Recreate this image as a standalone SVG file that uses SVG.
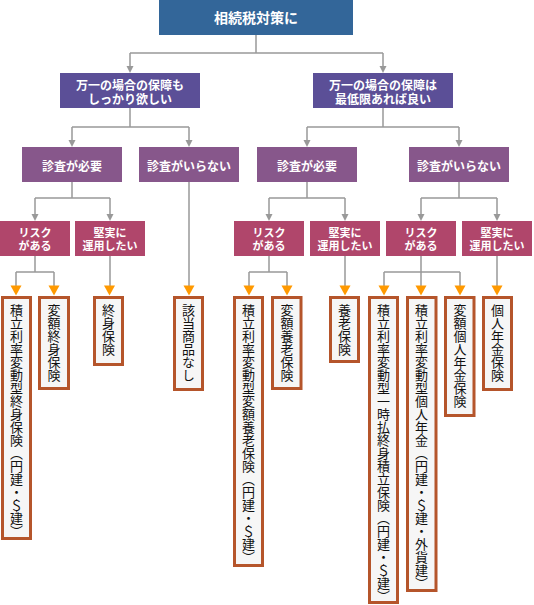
<svg xmlns="http://www.w3.org/2000/svg" width="534" height="605" viewBox="0 0 534 605">
<defs>
<style>
.hd{font-family:"Noto Sans CJK JP","Noto Sans",sans-serif;font-weight:bold;fill:#fff;text-anchor:middle;dominant-baseline:central}
.lf{font-family:"Noto Sans CJK JP","Noto Sans",sans-serif;font-size:13px;fill:#111;writing-mode:vertical-rl;text-anchor:start}
.leaf{fill:#f6f6f6;stroke:#b5552b;stroke-width:3}
.ln{stroke:#999;stroke-width:1.5;fill:none}
</style>
</defs>
<rect width="534" height="605" fill="#fff"/>
<g id="connectors">
<path class="ln" d="M256,35V53M130,53H383M130,53V66M383,53V66"/>
<path class="ln" d="M130,108V127M72,127H189M72,127V140M189,127V140"/>
<path class="ln" d="M383,108V127M307,127H459M307,127V140M459,127V140"/>
<path class="ln" d="M72,182V198M35,198H110M35,198V214M110,198V214"/>
<path class="ln" d="M307,182V198M269,198H345M269,198V214M345,198V214"/>
<path class="ln" d="M459,182V198M421,198H497M421,198V214M497,198V214"/>
<path class="ln" d="M189,182V286"/>
<path class="ln" d="M35,256V272M16,272H54M16,272V286M54,272V286M110,256V286"/>
<path class="ln" d="M269,256V272M249,272H287M249,272V286M287,272V286M345,256V286"/>
<path class="ln" d="M421,256V286M384,272H460M384,272V286M460,272V286M497,256V286"/>
<g fill="#999">
<path d="M126.5,66h7l-3.5,7z"/><path d="M379.5,66h7l-3.5,7z"/>
<path d="M68.5,140h7l-3.5,7z"/><path d="M185.5,140h7l-3.5,7z"/>
<path d="M303.5,140h7l-3.5,7z"/><path d="M455.5,140h7l-3.5,7z"/>
<path d="M31.5,214h7l-3.5,7z"/><path d="M106.5,214h7l-3.5,7z"/>
<path d="M265.5,214h7l-3.5,7z"/><path d="M341.5,214h7l-3.5,7z"/>
<path d="M417.5,214h7l-3.5,7z"/><path d="M493.5,214h7l-3.5,7z"/>
</g>
<g fill="#ff9900">
<path d="M10.5,285.5h11l-5.5,10z"/><path d="M48.5,285.5h11l-5.5,10z"/><path d="M104,285.5h11l-5.5,10z"/>
<path d="M183.5,285.5h11l-5.5,10z"/><path d="M243.5,285.5h11l-5.5,10z"/><path d="M281.5,285.5h11l-5.5,10z"/>
<path d="M339.5,285.5h11l-5.5,10z"/><path d="M378.5,285.5h11l-5.5,10z"/><path d="M415.5,285.5h11l-5.5,10z"/>
<path d="M454.5,285.5h11l-5.5,10z"/><path d="M491.5,285.5h11l-5.5,10z"/>
</g>
</g>
<g id="root"><rect x="159" y="0" width="194" height="35" fill="#336699"/><text class="hd" x="256" y="17" font-size="14">相続税対策に</text></g>
<g id="n-want"><rect x="60" y="73" width="140" height="35" fill="#5b4f97"/><text class="hd" font-size="12"><tspan x="130" y="84">万一の場合の保障も</tspan><tspan x="130" y="97.5">しっかり欲しい</tspan></text></g>
<g id="n-min"><rect x="313" y="73" width="140" height="35" fill="#5b4f97"/><text class="hd" font-size="12"><tspan x="383" y="84">万一の場合の保障は</tspan><tspan x="383" y="97.5">最低限あれば良い</tspan></text></g>
<g id="n-exam1"><rect x="22" y="147" width="100" height="35" fill="#87578b"/><text class="hd" x="72" y="165" font-size="12">診査が必要</text></g>
<g id="n-noexam1"><rect x="139" y="147" width="100" height="35" fill="#87578b"/><text class="hd" x="189" y="165" font-size="12">診査がいらない</text></g>
<g id="n-exam2"><rect x="257" y="147" width="100" height="35" fill="#87578b"/><text class="hd" x="307" y="165" font-size="12">診査が必要</text></g>
<g id="n-noexam2"><rect x="409" y="147" width="100" height="35" fill="#87578b"/><text class="hd" x="459" y="165" font-size="12">診査がいらない</text></g>
<g id="n-risk1"><rect x="0" y="221" width="70" height="35" fill="#b0466b"/><text class="hd" font-size="11"><tspan x="35" y="232">リスク</tspan><tspan x="35" y="245">がある</tspan></text></g>
<g id="n-safe1"><rect x="75" y="221" width="70" height="35" fill="#b0466b"/><text class="hd" font-size="11"><tspan x="110" y="232">堅実に</tspan><tspan x="110" y="245">運用したい</tspan></text></g>
<g id="n-risk2"><rect x="234" y="221" width="70" height="35" fill="#b0466b"/><text class="hd" font-size="11"><tspan x="269" y="232">リスク</tspan><tspan x="269" y="245">がある</tspan></text></g>
<g id="n-safe2"><rect x="310" y="221" width="70" height="35" fill="#b0466b"/><text class="hd" font-size="11"><tspan x="345" y="232">堅実に</tspan><tspan x="345" y="245">運用したい</tspan></text></g>
<g id="n-risk3"><rect x="386" y="221" width="70" height="35" fill="#b0466b"/><text class="hd" font-size="11"><tspan x="421" y="232">リスク</tspan><tspan x="421" y="245">がある</tspan></text></g>
<g id="n-safe3"><rect x="462" y="221" width="70" height="35" fill="#b0466b"/><text class="hd" font-size="11"><tspan x="497" y="232">堅実に</tspan><tspan x="497" y="245">運用したい</tspan></text></g>
<g id="leaf1"><rect class="leaf" x="2.5" y="297.5" width="28" height="241"/><text class="lf" x="16.5" y="304">積立利率変動型終身保険（円建・＄建）</text></g>
<g id="leaf2"><rect class="leaf" x="39.5" y="297.5" width="29" height="91"/><text class="lf" x="54" y="304">変額終身保険</text></g>
<g id="leaf3"><rect class="leaf" x="94.5" y="297.5" width="28" height="67"/><text class="lf" x="108.5" y="304">終身保険</text></g>
<g id="leaf4"><rect class="leaf" x="174.5" y="297.5" width="28" height="92"/><text class="lf" x="188.5" y="304">該当商品なし</text></g>
<g id="leaf5"><rect class="leaf" x="234.5" y="297.5" width="28" height="268"/><text class="lf" x="248.5" y="304">積立利率変動型変額養老保険（円建・＄建）</text></g>
<g id="leaf6"><rect class="leaf" x="272.5" y="297.5" width="28.5" height="91"/><text class="lf" x="287" y="304">変額養老保険</text></g>
<g id="leaf7"><rect class="leaf" x="330.5" y="297.5" width="28" height="64"/><text class="lf" x="344.5" y="304">養老保険</text></g>
<g id="leaf8"><rect class="leaf" x="369.5" y="297.5" width="28" height="305"/><text class="lf" x="383.5" y="304">積立利率変動型一時払終身積立保険（円建・＄建）</text></g>
<g id="leaf9"><rect class="leaf" x="407.5" y="297.5" width="28.5" height="293"/><text class="lf" x="421.5" y="304">積立利率変動型個人年金（円建・＄建・外貨建）</text></g>
<g id="leaf10"><rect class="leaf" x="445.5" y="297.5" width="28.5" height="118"/><text class="lf" x="460" y="304">変額個人年金保険</text></g>
<g id="leaf11"><rect class="leaf" x="483.5" y="297.5" width="28" height="92"/><text class="lf" x="497.5" y="304">個人年金保険</text></g>
</svg>
